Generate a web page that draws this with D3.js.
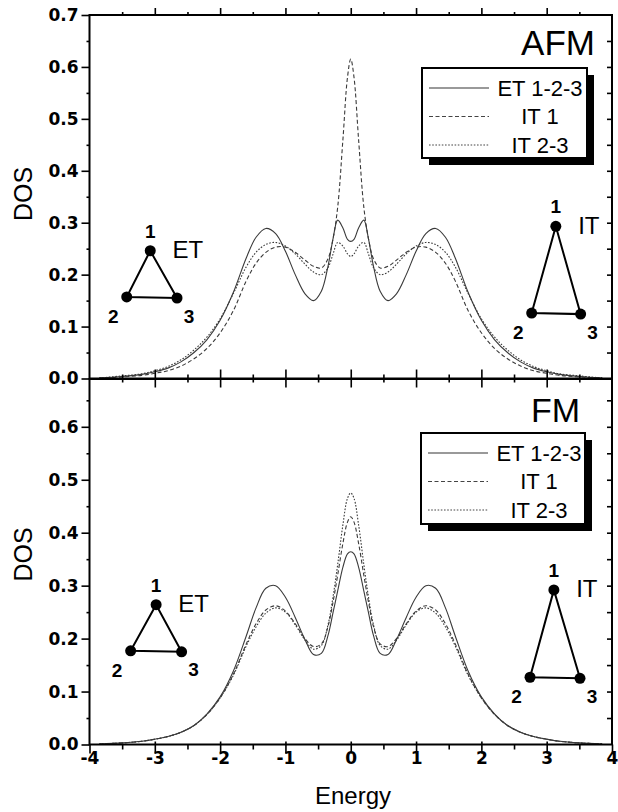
<!DOCTYPE html>
<html>
<head>
<meta charset="utf-8">
<script src="https://cdn.jsdelivr.net/npm/d3@7"></script>
<style>
  body { margin: 0; background: #fff; }
  svg { display: block; }
</style>
</head>
<body>
<div id="chart"></div>
<script>
// energy grid shared by all curves
var energy = [-3.85, -3.5, -3.2, -3.0, -2.8, -2.6, -2.4, -2.2, -2.0, -1.8, -1.6, -1.45, -1.3, -1.15, -1.0, -0.85, -0.7, -0.57, -0.45, -0.35, -0.27, -0.2, -0.12, -0.05,
  0,
  0.05, 0.12, 0.2, 0.27, 0.35, 0.45, 0.57, 0.7, 0.85, 1.0, 1.15, 1.3, 1.45, 1.6, 1.8, 2.0, 2.2, 2.4, 2.6, 2.8, 3.0, 3.2, 3.5, 3.85];

var seriesNames = ["ET 1-2-3", "IT 1", "IT 2-3"];

// AFM panel
var afmET = [0.001, 0.004, 0.008, 0.013, 0.02, 0.032, 0.05, 0.075, 0.112, 0.165, 0.232, 0.272, 0.289, 0.279, 0.245, 0.2, 0.163, 0.15, 0.168, 0.215, 0.27, 0.305, 0.29, 0.268,
  0.264,
  0.268, 0.29, 0.305, 0.27, 0.215, 0.168, 0.15, 0.163, 0.2, 0.245, 0.279, 0.289, 0.272, 0.232, 0.165, 0.112, 0.075, 0.05, 0.032, 0.02, 0.013, 0.008, 0.004, 0.001];
var afmIT1 = [0.001, 0.003, 0.006, 0.01, 0.015, 0.024, 0.038, 0.058, 0.088, 0.13, 0.188, 0.222, 0.243, 0.253, 0.253, 0.243, 0.228, 0.216, 0.213, 0.23, 0.27, 0.33, 0.46, 0.58,
  0.615,
  0.58, 0.46, 0.33, 0.27, 0.23, 0.213, 0.216, 0.228, 0.243, 0.253, 0.253, 0.243, 0.222, 0.188, 0.13, 0.088, 0.058, 0.038, 0.024, 0.015, 0.01, 0.006, 0.003, 0.001];
var afmIT23 = [0.001, 0.005, 0.009, 0.015, 0.023, 0.036, 0.055, 0.08, 0.115, 0.163, 0.215, 0.243, 0.258, 0.262, 0.255, 0.24, 0.22, 0.205, 0.2, 0.213, 0.24, 0.262, 0.255, 0.24,
  0.235,
  0.24, 0.255, 0.262, 0.24, 0.213, 0.2, 0.205, 0.22, 0.24, 0.255, 0.262, 0.258, 0.243, 0.215, 0.163, 0.115, 0.08, 0.055, 0.036, 0.023, 0.015, 0.009, 0.005, 0.001];

// FM panel
var fmET = [0.001, 0.003, 0.006, 0.01, 0.015, 0.023, 0.036, 0.058, 0.09, 0.138, 0.205, 0.258, 0.295, 0.3, 0.278, 0.24, 0.198, 0.17, 0.172, 0.205, 0.25, 0.29, 0.335, 0.36,
  0.364,
  0.36, 0.335, 0.29, 0.25, 0.205, 0.172, 0.17, 0.198, 0.24, 0.278, 0.3, 0.295, 0.258, 0.205, 0.138, 0.09, 0.058, 0.036, 0.023, 0.015, 0.01, 0.006, 0.003, 0.001];
var fmIT1 = [0.001, 0.003, 0.006, 0.01, 0.015, 0.023, 0.036, 0.057, 0.088, 0.132, 0.19, 0.228, 0.254, 0.262, 0.252, 0.228, 0.2, 0.185, 0.19, 0.222, 0.27, 0.32, 0.38, 0.42,
  0.43,
  0.42, 0.38, 0.32, 0.27, 0.222, 0.19, 0.185, 0.2, 0.228, 0.252, 0.262, 0.254, 0.228, 0.19, 0.132, 0.088, 0.057, 0.036, 0.023, 0.015, 0.01, 0.006, 0.003, 0.001];
var fmIT23 = [0.001, 0.003, 0.006, 0.01, 0.015, 0.023, 0.036, 0.057, 0.088, 0.13, 0.186, 0.222, 0.248, 0.258, 0.25, 0.226, 0.197, 0.18, 0.187, 0.225, 0.28, 0.34, 0.415, 0.465,
  0.475,
  0.465, 0.415, 0.34, 0.28, 0.225, 0.187, 0.18, 0.197, 0.226, 0.25, 0.258, 0.248, 0.222, 0.186, 0.13, 0.088, 0.057, 0.036, 0.023, 0.015, 0.01, 0.006, 0.003, 0.001];

var xTicks = [-4, -3, -2, -1, 0, 1, 2, 3, 4];
var xMinor = [-3.5, -2.5, -1.5, -0.5, 0.5, 1.5, 2.5, 3.5];
var afmYTicks = [0.0, 0.1, 0.2, 0.3, 0.4, 0.5, 0.6, 0.7];
var afmYMinor = [0.05, 0.15, 0.25, 0.35, 0.45, 0.55, 0.65];
var fmYTicks = [0.0, 0.1, 0.2, 0.3, 0.4, 0.5, 0.6];
var fmYMinor = [0.05, 0.15, 0.25, 0.35, 0.45, 0.55, 0.65];

// triangle sketches (energy, DOS) for vertex 1, 2, 3
var afmTriET = [[-3.07, 0.246], [-3.43, 0.157], [-2.66, 0.155]];
var afmTriIT = [[3.14, 0.293], [2.77, 0.126], [3.52, 0.124]];
var fmTriET = [[-2.98, 0.264], [-3.37, 0.177], [-2.59, 0.175]];
var fmTriIT = [[3.11, 0.292], [2.745, 0.127], [3.51, 0.125]];

var width = 618, height = 812;
var left = 89.5, right = 612;
var sans = "'Liberation Sans', Arial, sans-serif";
var tickFont = "'DejaVu Sans', sans-serif";
var dashes = [null, "4,2.5", "1.6,1.6"];

var svg = d3.select("#chart").append("svg")
  .attr("width", width).attr("height", height);

var x = d3.scaleLinear().domain([-4, 4]).range([left, right]);

var panels = [
  { name: "AFM", top: 15, bottom: 378.5, y: d3.scaleLinear().domain([0, 0.7]).range([378.5, 15]),
    series: [afmET, afmIT1, afmIT23], yTicks: afmYTicks, yMinor: afmYMinor,
    label: [595, 55, 35], legend: [422, 68, 165, 90], tris: [afmTriET, afmTriIT] },
  { name: "FM", top: 379, bottom: 744.5, y: d3.scaleLinear().domain([0, 0.6]).range([744.5, 426.8]),
    series: [fmET, fmIT1, fmIT23], yTicks: fmYTicks, yMinor: fmYMinor,
    label: [580, 422, 34], legend: [421, 433, 164, 91], tris: [fmTriET, fmTriIT] }
];

function clean(g) {
  g.select(".domain").remove();
  g.selectAll("line").attr("stroke", "#000").attr("stroke-width", 1.6);
}

panels.forEach(function(p, pi) {
  var y = p.y;
  var g = svg.append("g");

  // curves
  var line = d3.line()
    .x(function(d) { return x(d[0]); })
    .y(function(d) { return y(d[1]); })
    .curve(d3.curveCatmullRom.alpha(0.5));

  p.series.forEach(function(vals, si) {
    g.append("path")
      .datum(energy.map(function(e, i) { return [e, vals[i]]; }))
      .attr("d", line)
      .attr("fill", "none")
      .attr("stroke", "#3a3a3a")
      .attr("stroke-width", 1.1)
      .attr("stroke-dasharray", dashes[si]);
  });

  // left axis
  g.append("g").attr("transform", "translate(" + left + ",0)")
    .call(d3.axisLeft(y).tickValues(p.yTicks).tickSize(8).tickPadding(3).tickFormat(d3.format(".1f")))
    .call(clean)
    .selectAll("text")
      .attr("font-family", tickFont).attr("font-size", 17).attr("font-weight", "bold").attr("fill", "#000");
  g.append("g").attr("transform", "translate(" + left + ",0)")
    .call(d3.axisLeft(y).tickValues(p.yMinor.filter(function(v) { return y(v) > p.top + 2; })).tickSize(3).tickFormat(""))
    .call(clean);

  // right axis, ticks inward
  g.append("g").attr("transform", "translate(" + right + ",0)")
    .call(d3.axisLeft(y).tickValues(p.yTicks.concat(p.yMinor).filter(function(v) { return y(v) > p.top + 2 && v > 0; })).tickSize(5).tickFormat(""))
    .call(clean);

  // top axis of AFM, ticks outward
  if (pi === 0) {
    g.append("g").attr("transform", "translate(0," + p.top + ")")
      .call(d3.axisTop(x).tickValues(xTicks.slice(1, -1)).tickSize(7).tickFormat(""))
      .call(clean);
    g.append("g").attr("transform", "translate(0," + p.top + ")")
      .call(d3.axisTop(x).tickValues(xMinor).tickSize(3).tickFormat(""))
      .call(clean);
  }

  // bottom axis
  var bx = g.append("g").attr("transform", "translate(0," + p.bottom + ")");
  if (pi === 0) {
    bx.append("g").call(d3.axisBottom(x).tickValues(xTicks.slice(1, -1)).tickSize(9).tickFormat("")).call(clean);
    bx.append("g").call(d3.axisTop(x).tickValues(xTicks.slice(1, -1)).tickSize(9).tickFormat("")).call(clean);
    bx.append("g").call(d3.axisBottom(x).tickValues(xMinor).tickSize(4).tickFormat("")).call(clean);
    bx.append("g").call(d3.axisTop(x).tickValues(xMinor).tickSize(4).tickFormat("")).call(clean);
  } else {
    bx.append("g")
      .call(d3.axisBottom(x).tickValues(xTicks).tickSize(9).tickPadding(-2).tickFormat(function(d) { return String(d); }))
      .call(clean)
      .selectAll("text")
        .attr("font-family", tickFont).attr("font-size", 17).attr("font-weight", "bold").attr("fill", "#000");
    bx.append("g").call(d3.axisTop(x).tickValues(xTicks.slice(1, -1)).tickSize(3).tickFormat("")).call(clean);
    bx.append("g").call(d3.axisBottom(x).tickValues(xMinor).tickSize(5).tickFormat("")).call(clean);
  }

  // frame
  g.append("rect")
    .attr("x", left).attr("y", p.top)
    .attr("width", right - left).attr("height", p.bottom - p.top)
    .attr("fill", "none").attr("stroke", "#000").attr("stroke-width", 2);

  // y label
  g.append("text")
    .attr("transform", "translate(32," + ((pi === 0 ? 194 : 554.5)) + ") rotate(-90)")
    .attr("text-anchor", "middle")
    .attr("font-family", sans).attr("font-size", 25)
    .text("DOS");

  // panel name
  g.append("text")
    .attr("x", p.label[0]).attr("y", p.label[1])
    .attr("text-anchor", "end")
    .attr("font-family", sans).attr("font-size", p.label[2])
    .text(p.name);

  // legend with drop shadow
  var L = p.legend;
  g.append("rect").attr("x", L[0] + 7).attr("y", L[1] + 7).attr("width", L[2]).attr("height", L[3]).attr("fill", "#000");
  g.append("rect").attr("x", L[0]).attr("y", L[1]).attr("width", L[2]).attr("height", L[3])
    .attr("fill", "#fff").attr("stroke", "#000").attr("stroke-width", 2);
  var rowY = [20, 48.5, 77];
  seriesNames.forEach(function(name, si) {
    var cy = L[1] + rowY[si];
    g.append("line")
      .attr("x1", L[0] + 7).attr("x2", L[0] + 67)
      .attr("y1", cy).attr("y2", cy)
      .attr("stroke", si === 0 ? "#777" : "#444").attr("stroke-width", si === 0 ? 1.3 : 1)
      .attr("stroke-dasharray", dashes[si]);
    g.append("text")
      .attr("x", L[0] + 118).attr("y", cy + 7.9)
      .attr("text-anchor", "middle")
      .attr("font-family", sans).attr("font-size", 22)
      .text(name);
  });

  // triangles
  var tnames = ["ET", "IT"];
  p.tris.forEach(function(tri, ti) {
    var pts = tri.map(function(d) { return [x(d[0]), y(d[1])]; });
    g.append("path")
      .attr("d", "M" + pts.join("L") + "Z")
      .attr("fill", "none").attr("stroke", "#000").attr("stroke-width", 2);
    g.selectAll(null).data(pts).enter().append("circle")
      .attr("cx", function(d) { return d[0]; })
      .attr("cy", function(d) { return d[1]; })
      .attr("r", 5.5).attr("fill", "#000");
    var off = [[0, -20], [-13.5, 19], [12, 17.5]];
    pts.forEach(function(pt, k) {
      g.append("text")
        .attr("x", pt[0] + off[k][0]).attr("y", pt[1] + off[k][1] + 7)
        .attr("text-anchor", "middle")
        .attr("font-family", sans).attr("font-size", 19).attr("font-weight", "bold")
        .text(String(k + 1));
    });
    g.append("text")
      .attr("x", pts[0][0] + (ti === 0 ? 37.5 : 33)).attr("y", pts[0][1] - 1 + 8.6)
      .attr("text-anchor", "middle")
      .attr("font-family", sans).attr("font-size", 24)
      .text(tnames[ti]);
  });
});

// x label
svg.append("text")
  .attr("x", 353).attr("y", 804)
  .attr("text-anchor", "middle")
  .attr("font-family", sans).attr("font-size", 24)
  .text("Energy");
</script>
</body>
</html>
